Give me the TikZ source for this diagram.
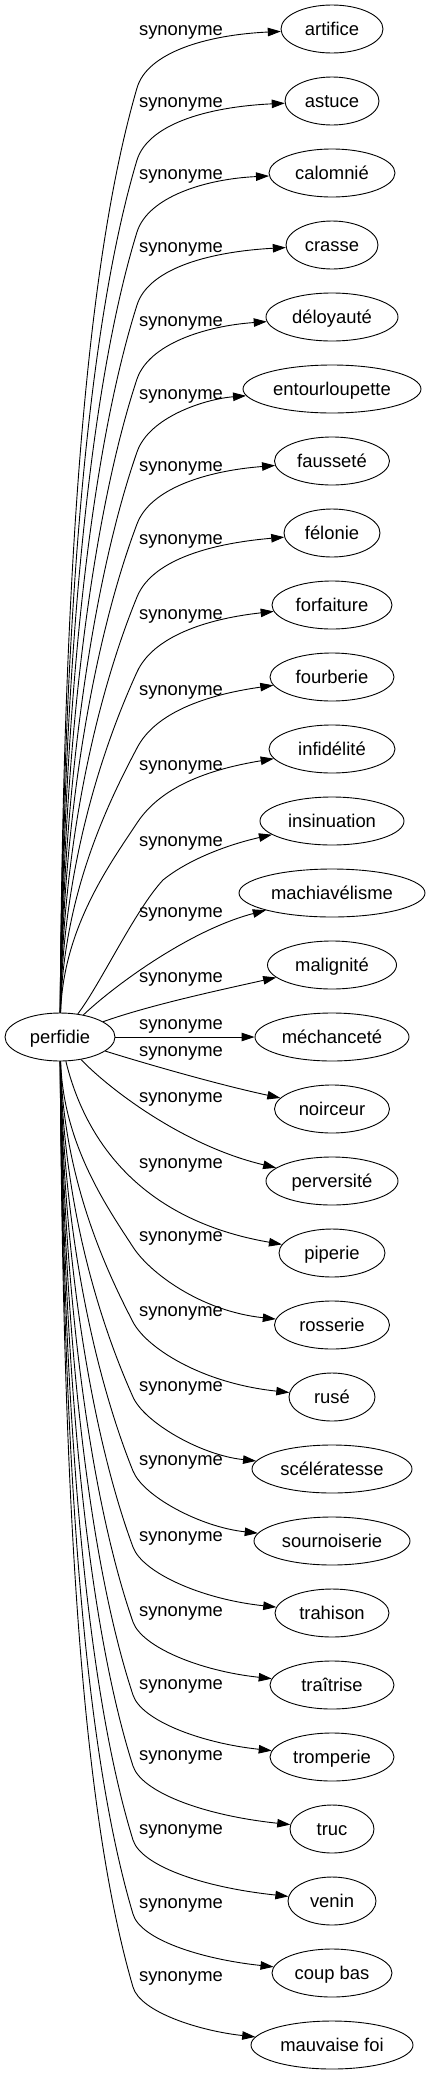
\documentclass[tikz,border=0pt]{standalone}
\usepackage{fontspec}
\setmainfont{Liberation Sans}
\usetikzlibrary{shapes.geometric,arrows.meta}
\newcommand{\wfont}{\fontsize{18.4}{22}\selectfont}
\tikzset{
  wordnode/.style={draw, ellipse, line width=0.9pt, inner sep=0pt, minimum height=48pt,
    text height=16pt, text depth=4pt, font=\wfont},
  synlabel/.style={inner sep=0pt, anchor=base, font=\wfont},
  synedge/.style={line width=0.9pt, -{Triangle[length=13pt,width=8.5pt]}}
}
\begin{document}
\begin{tikzpicture}[x=1pt,y=-1pt]
\useasboundingbox (0,0) rectangle (431,2075);
\node[wordnode, minimum width=110pt] (p) at (60,1037) {perfidie};
\node[wordnode, minimum width=102pt] (n0) at (332,29) {artifice};
\node[wordnode, minimum width=94pt] (n1) at (332,101) {astuce};
\node[wordnode, minimum width=126pt] (n2) at (332,173) {calomnié};
\node[wordnode, minimum width=92pt] (n3) at (332,245) {crasse};
\node[wordnode, minimum width=132pt] (n4) at (332,317) {déloyauté};
\node[wordnode, minimum width=178pt] (n5) at (332,389) {entourloupette};
\node[wordnode, minimum width=115pt] (n6) at (332,461) {fausseté};
\node[wordnode, minimum width=96pt] (n7) at (332,533) {félonie};
\node[wordnode, minimum width=120pt] (n8) at (332,605) {forfaiture};
\node[wordnode, minimum width=124pt] (n9) at (332,677) {fourberie};
\node[wordnode, minimum width=126pt] (n10) at (332,749) {infidélité};
\node[wordnode, minimum width=144pt] (n11) at (332,821) {insinuation};
\node[wordnode, minimum width=186pt] (n12) at (332,893) {machiavélisme};
\node[wordnode, minimum width=129pt] (n13) at (332,965) {malignité};
\node[wordnode, minimum width=154pt] (n14) at (332,1037) {méchanceté};
\node[wordnode, minimum width=115pt] (n15) at (332,1109) {noirceur};
\node[wordnode, minimum width=132pt] (n16) at (332,1181) {perversité};
\node[wordnode, minimum width=106pt] (n17) at (332,1253) {piperie};
\node[wordnode, minimum width=115pt] (n18) at (332,1325) {rosserie};
\node[wordnode, minimum width=86pt] (n19) at (332,1397) {rusé};
\node[wordnode, minimum width=160pt] (n20) at (332,1469) {scélératesse};
\node[wordnode, minimum width=156pt] (n21) at (332,1541) {sournoiserie};
\node[wordnode, minimum width=114pt] (n22) at (332,1613) {trahison};
\node[wordnode, minimum width=124pt] (n23) at (332,1685) {traîtrise};
\node[wordnode, minimum width=124pt] (n24) at (332,1757) {tromperie};
\node[wordnode, minimum width=84pt] (n25) at (332,1829) {truc};
\node[wordnode, minimum width=88pt] (n26) at (332,1901) {venin};
\node[wordnode, minimum width=120pt] (n27) at (332,1973) {coup bas};
\node[wordnode, minimum width=162pt] (n28) at (332,2045) {mauvaise foi};
\foreach \L [count=\k from 0] in {33,105,177,250,324,397,469,542,617,693,768,844,915,980,1027,1054,1100,1166,1239,1314,1389,1463,1539,1614,1687,1758,1832,1906,1979}
  \node[synlabel] (lab\k) at (181,\L+2.5) {synonyme};
% upper edges
\draw[synedge] (p) .. controls (63,597) and (83,273) .. (137,88) .. controls (147,53) and (205,35) .. (n0);
\draw[synedge] (p) .. controls (63,629) and (86,331) .. (137,160) .. controls (148,125) and (205,107) .. (n1);
\draw[synedge] (p) .. controls (63,662) and (89,388) .. (137,232) .. controls (148,197) and (205,179) .. (n2);
\draw[synedge] (p) .. controls (63,694) and (92,447) .. (137,305) .. controls (148,270) and (205,252) .. (n3);
\draw[synedge] (p) .. controls (63,728) and (95,506) .. (137,379) .. controls (149,344) and (205,326) .. (n4);
\draw[synedge] (p) .. controls (63,761) and (98,564) .. (137,452) .. controls (149,417) and (205,399) .. (n5);
\draw[synedge] (p) .. controls (63,793) and (100,622) .. (137,524) .. controls (150,489) and (205,471) .. (n6);
\draw[synedge] (p) .. controls (63,826) and (103,680) .. (137,597) .. controls (151,562) and (205,544) .. (n7);
\draw[synedge] (p) .. controls (63,860) and (106,740) .. (137,672) .. controls (153,637) and (205,619) .. (n8);
\draw[synedge] (p) .. controls (63,894) and (109,801) .. (137,748) .. controls (155,713) and (205,695) .. (n9);
\draw[synedge] (p) .. controls (63,927) and (112,861) .. (137,823) .. controls (160,788) and (205,770) .. (n10);
\draw[synedge] (p) .. controls (100,985) and (135,910) .. (163,880) .. controls (185,862) and (222,846) .. (n11);
\draw[synedge] (p) .. controls (115,985) and (190,930) .. (n12);
\draw[synedge] (p) .. controls (150,1005) and (220,990) .. (n13);
\draw[synedge] (p) -- (n14);
\draw[synedge] (p) .. controls (150,1065) and (220,1085) .. (n15);
\draw[synedge] (p) .. controls (105,1085) and (180,1145) .. (n16);
\draw[synedge] (p) .. controls (85,1140) and (140,1220) .. (n17);
% lower edges
\draw[synedge] (p) .. controls (63,1145) and (109,1210) .. (133,1247) .. controls (149,1272) and (200,1311) .. (n18);
\draw[synedge] (p) .. controls (63,1178) and (106,1270) .. (133,1322) .. controls (146,1347) and (200,1383) .. (n19);
\draw[synedge] (p) .. controls (63,1212) and (103,1330) .. (133,1397) .. controls (144,1422) and (200,1455) .. (n20);
\draw[synedge] (p) .. controls (63,1246) and (100,1389) .. (133,1471) .. controls (143,1496) and (200,1527) .. (n21);
\draw[synedge] (p) .. controls (63,1280) and (97,1450) .. (133,1547) .. controls (142,1572) and (200,1599) .. (n22);
\draw[synedge] (p) .. controls (63,1313) and (94,1510) .. (133,1622) .. controls (142,1647) and (200,1671) .. (n23);
\draw[synedge] (p) .. controls (63,1346) and (91,1568) .. (133,1695) .. controls (141,1720) and (200,1743) .. (n24);
\draw[synedge] (p) .. controls (63,1378) and (88,1625) .. (133,1766) .. controls (141,1791) and (200,1815) .. (n25);
\draw[synedge] (p) .. controls (63,1412) and (85,1684) .. (133,1840) .. controls (141,1865) and (200,1887) .. (n26);
\draw[synedge] (p) .. controls (63,1445) and (82,1743) .. (133,1914) .. controls (140,1939) and (200,1959) .. (n27);
\draw[synedge] (p) .. controls (63,1478) and (79,1802) .. (133,1987) .. controls (140,2012) and (200,2031) .. (n28);
\end{tikzpicture}
\end{document}
